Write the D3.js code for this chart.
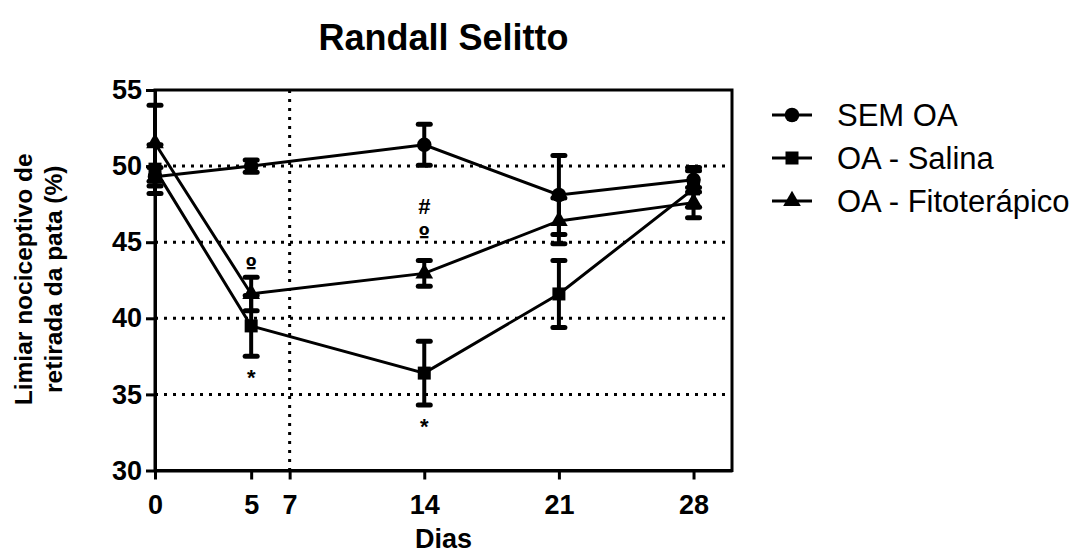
<!DOCTYPE html>
<html>
<head>
<meta charset="utf-8">
<script src="https://cdn.jsdelivr.net/npm/d3@7"></script>
<style>
  body { margin: 0; background: #fff; }
  text { font-family: "Liberation Sans", Arial, sans-serif; fill: #000; }
</style>
</head>
<body>
<div id="chart"></div>
<script>
// data
const days = [0, 5, 14, 21, 28];
const semOA = [49.3, 50.0, 51.4, 48.1, 49.1];
const semOAErr = [0.6, 0.4, 1.35, 2.6, 0.8];
const salina = [49.8, 39.5, 36.4, 41.6, 48.5];
const salinaErr = [1.6, 2.0, 2.1, 2.2, 1.2];
const fito = [51.5, 41.6, 42.95, 46.4, 47.6];
const fitoErr = [2.5, 1.1, 0.85, 1.5, 1.0];

const xTicks = [0, 5, 7, 14, 21, 28];
const yTicks = [30, 35, 40, 45, 50, 55];
const gridY = [35, 40, 45, 50];
const markDay = 7;

// significance marks: day, value at text baseline, symbol
const markDays = [5, 5, 14, 14, 14];
const markVals = [43.0, 35.6, 46.85, 45.0, 32.4];
const markText = ["º", "*", "#", "º", "*"];

const seriesNames = ["SEM OA", "OA - Salina", "OA - Fitoterápico"];
const seriesVals = [semOA, salina, fito];
const seriesErrs = [semOAErr, salinaErr, fitoErr];
const seriesShape = ["circle", "square", "triangle"];

const width = 1078, height = 556;
const mLeft = 155, mRight = 732, mTop = 90, mBottom = 470.5;

const svg = d3.select("#chart").append("svg")
    .attr("width", width)
    .attr("height", height);

const x = d3.scaleLinear().domain([0, 30]).range([mLeft, mRight]);
const y = d3.scaleLinear().domain([30, 55]).range([mBottom, mTop]);

// dotted grid
svg.append("g").selectAll("line")
    .data(gridY)
    .join("line")
    .attr("x1", mLeft).attr("x2", mRight)
    .attr("y1", d => y(d)).attr("y2", d => y(d))
    .attr("stroke", "#000")
    .attr("stroke-width", 3)
    .attr("stroke-dasharray", "3,6");

svg.append("line")
    .attr("x1", x(markDay)).attr("x2", x(markDay))
    .attr("y1", mTop).attr("y2", mBottom)
    .attr("stroke", "#000")
    .attr("stroke-width", 3)
    .attr("stroke-dasharray", "3,6");

// frame
svg.append("rect")
    .attr("x", mLeft).attr("y", mTop)
    .attr("width", mRight - mLeft).attr("height", mBottom - mTop)
    .attr("fill", "none")
    .attr("stroke", "#000")
    .attr("stroke-width", 3);

// axes
const xAxis = svg.append("g")
    .attr("transform", `translate(0,${mBottom})`)
    .call(d3.axisBottom(x).tickValues(xTicks).tickSize(9).tickPadding(15).tickSizeOuter(0));
const yAxis = svg.append("g")
    .attr("transform", `translate(${mLeft},0)`)
    .call(d3.axisLeft(y).tickValues(yTicks).tickSize(9).tickPadding(4).tickSizeOuter(0));

[xAxis, yAxis].forEach(g => {
  g.select(".domain").attr("stroke-width", 3);
  g.selectAll(".tick line").attr("stroke-width", 3);
  g.selectAll(".tick text")
      .style("font-family", "'Liberation Sans', Arial, sans-serif")
      .style("font-size", "27px")
      .style("font-weight", "bold");
});

// lines
const line = d3.line().x((d, i) => x(days[i])).y(d => y(d));

function marker(sel, shape, size) {
  if (shape === "circle") {
    sel.append("circle").attr("r", size * 0.56).attr("fill", "#000");
  } else if (shape === "square") {
    sel.append("rect")
        .attr("x", -size / 2).attr("y", -size / 2)
        .attr("width", size).attr("height", size)
        .attr("fill", "#000");
  } else {
    sel.append("path")
        .attr("d", d3.symbol(d3.symbolTriangle, size * size * 0.8)())
        .attr("fill", "#000");
  }
}

seriesVals.forEach((vals, s) => {
  const errs = seriesErrs[s];
  const g = svg.append("g");

  g.append("path")
      .datum(vals)
      .attr("d", line)
      .attr("fill", "none")
      .attr("stroke", "#000")
      .attr("stroke-width", 3);

  const pts = g.selectAll("g.pt")
      .data(vals)
      .join("g")
      .attr("class", "pt")
      .attr("transform", (d, i) => `translate(${x(days[i])},${y(d)})`);

  pts.append("line")
      .attr("y1", (d, i) => y(d + errs[i]) - y(d))
      .attr("y2", (d, i) => y(d - errs[i]) - y(d))
      .attr("stroke", "#000")
      .attr("stroke-width", 4);

  pts.selectAll("line.cap")
      .data((d, i) => [y(d + errs[i]) - y(d), y(d - errs[i]) - y(d)])
      .join("line")
      .attr("class", "cap")
      .attr("x1", -6).attr("x2", 6)
      .attr("y1", d => d).attr("y2", d => d)
      .attr("stroke", "#000")
      .attr("stroke-width", 5)
      .attr("stroke-linecap", "round");

  pts.each(function() { marker(d3.select(this), seriesShape[s], 13); });
});

// significance marks
svg.append("g").selectAll("text")
    .data(markText)
    .join("text")
    .attr("x", (d, i) => x(markDays[i]))
    .attr("y", (d, i) => y(markVals[i]))
    .attr("text-anchor", "middle")
    .style("font-family", d => d === "º" ? "'DejaVu Sans', sans-serif" : null)
    .style("font-size", d => d === "º" ? "21px" : "22px")
    .style("font-weight", "bold")
    .text(d => d);

// title and axis titles
svg.append("text")
    .attr("x", (mLeft + mRight) / 2).attr("y", 50)
    .attr("text-anchor", "middle")
    .style("font-size", "36px")
    .style("font-weight", "bold")
    .text("Randall Selitto");

svg.append("text")
    .attr("x", (mLeft + mRight) / 2).attr("y", 548)
    .attr("text-anchor", "middle")
    .style("font-size", "27px")
    .style("font-weight", "bold")
    .text("Dias");

const yTitle = svg.append("text")
    .attr("transform", `translate(32,${(mTop + mBottom) / 2 - 1}) rotate(-90)`)
    .attr("text-anchor", "middle")
    .style("font-size", "24.5px")
    .style("font-weight", "bold");
yTitle.append("tspan").attr("x", 0).attr("dy", 0).text("Limiar nociceptivo de");
yTitle.append("tspan").attr("x", 0).attr("dy", 30).text("retirada da pata (%)");

// legend
const legend = svg.append("g").attr("transform", "translate(772,115)");
seriesNames.forEach((name, s) => {
  const row = legend.append("g").attr("transform", `translate(0,${s * 43})`);
  row.append("line")
      .attr("x1", 0).attr("x2", 40)
      .attr("stroke", "#000").attr("stroke-width", 3);
  const m = row.append("g").attr("transform", "translate(20,0)");
  marker(m, seriesShape[s], 13);
  row.append("text")
      .attr("x", 65).attr("y", 11)
      .style("font-size", "31px")
      .text(name);
});
</script>
</body>
</html>
